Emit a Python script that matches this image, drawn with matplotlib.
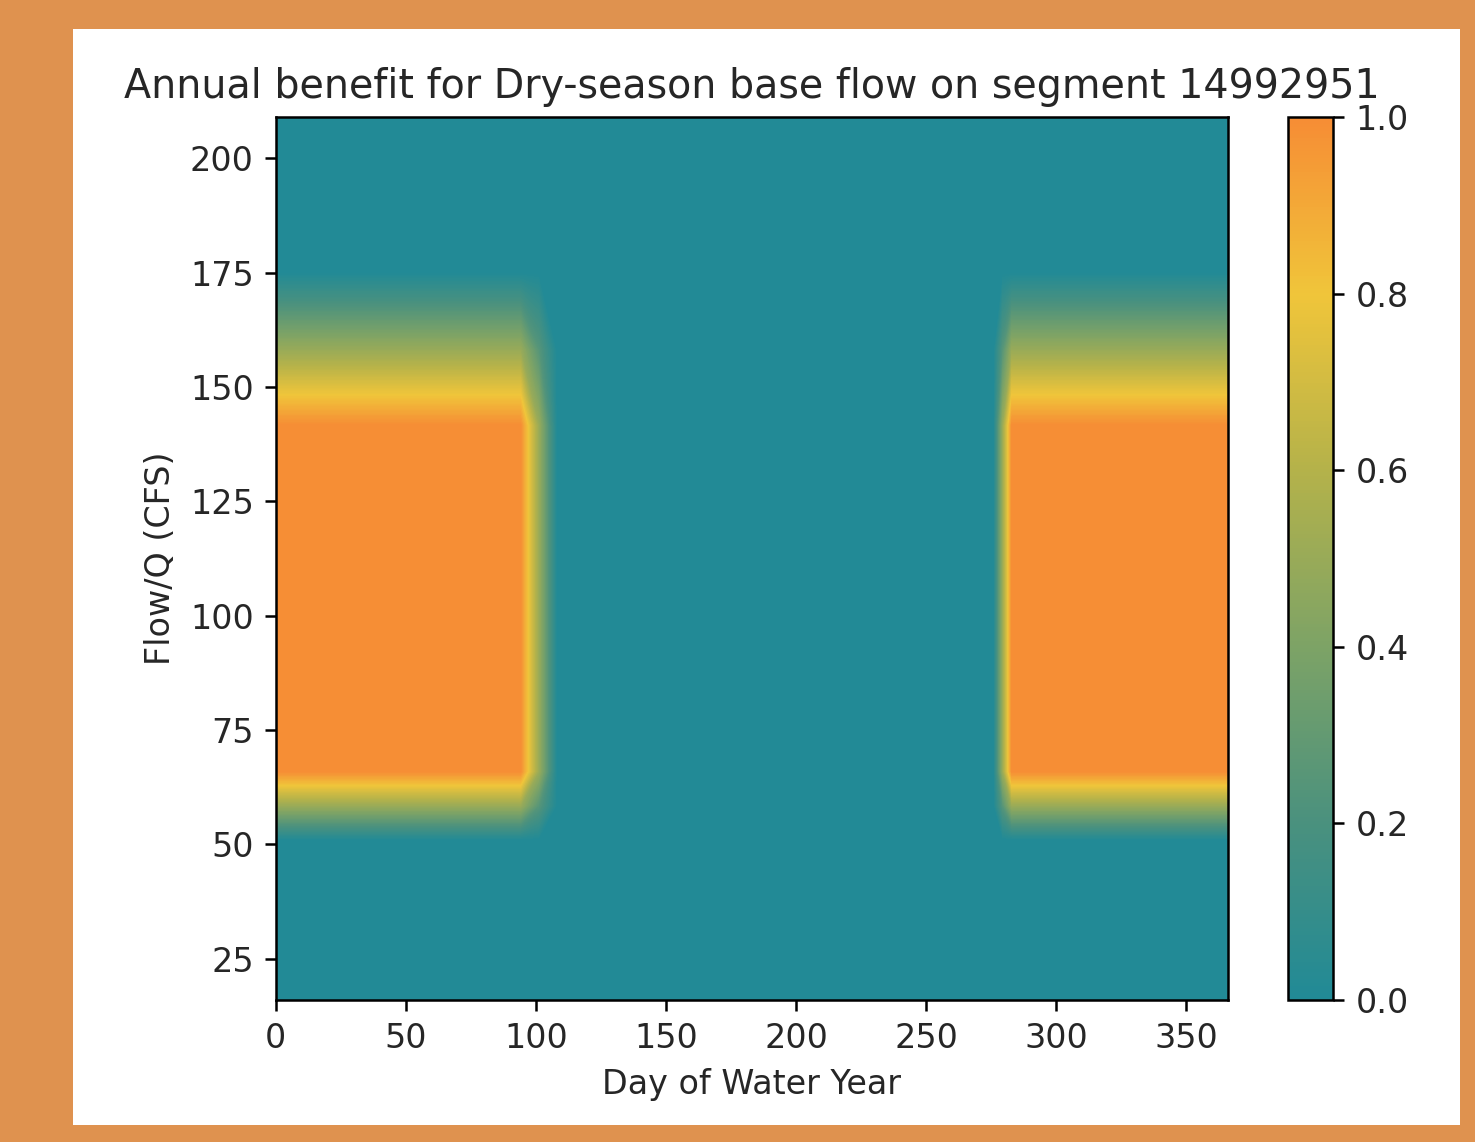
import numpy as np
import matplotlib
matplotlib.use("Agg")
import matplotlib.pyplot as plt
from matplotlib.colors import LinearSegmentedColormap
from matplotlib.patches import Rectangle

# node positions (day of water year, flow in CFS)
DAYS = [0, 94, 101, 108, 276, 279.5, 283, 366]
FLOWS = [16, 51, 58.5, 66, 141.5, 158, 175, 209]
# benefit at each node, one row per flow
BENEFIT = [
    [0.0, 0.0, 0.0, 0.0, 0.0, 0.0, 0.0, 0.0],
    [0.0, 0.0, 0.0, 0.0, 0.0, 0.0, 0.0, 0.0],
    [0.5, 0.5, 0.25, 0.0, 0.0, 0.25, 0.5, 0.5],
    [1.0, 1.0, 0.5, 0.0, 0.0, 0.5, 1.0, 1.0],
    [1.0, 1.0, 0.5, 0.0, 0.0, 0.5, 1.0, 1.0],
    [0.5, 0.5, 0.25, 0.0, 0.0, 0.25, 0.5, 0.5],
    [0.0, 0.0, 0.0, 0.0, 0.0, 0.0, 0.0, 0.0],
    [0.0, 0.0, 0.0, 0.0, 0.0, 0.0, 0.0, 0.0],
]

X_TICKS = [0, 50, 100, 150, 200, 250, 300, 350]
Y_TICKS = [25, 50, 75, 100, 125, 150, 175, 200]
CB_TICKS = [0.0, 0.2, 0.4, 0.6, 0.8, 1.0]

SEGMENT = 14992951

cmap = LinearSegmentedColormap.from_list("benefit", [
    (0.0, "#218A96"),
    (0.2, "#4A917E"),
    (0.4, "#7DA366"),
    (0.6, "#B4B24A"),
    (0.8, "#F0C53A"),
    (1.0, "#F68D35"),
])

S = 2.26  # scale relative to matplotlib defaults
plt.rcParams.update({
    "font.family": ["DejaVu Sans"],
    "font.size": 24,
    "text.color": "#262626",
    "axes.labelcolor": "#262626",
    "xtick.labelcolor": "#262626",
    "ytick.labelcolor": "#262626",
    "axes.linewidth": 0.8 * S,
    "xtick.major.size": 3.5 * S,
    "ytick.major.size": 3.5 * S,
    "xtick.major.width": 0.8 * S,
    "ytick.major.width": 0.8 * S,
    "xtick.major.pad": 3.5 * S,
    "ytick.major.pad": 3.5 * S,
    "axes.titlepad": 6 * S,
    "axes.labelpad": 4 * S,
    "axes.titlesize": 28.5,
})

fig = plt.figure(figsize=(14.75, 11.42), dpi=100, facecolor="#DF924F")
fig.add_artist(Rectangle((0.0495, 0.015), 0.9405, 0.960, transform=fig.transFigure,
                         facecolor="white", edgecolor="none", zorder=-1))

ax = fig.add_axes([0.187, 0.1243, 0.6455, 0.7733])
cax = fig.add_axes([0.873, 0.1243, 0.031, 0.7733])

levels = np.linspace(0, 1, 121)
cs = ax.contourf(DAYS, FLOWS, BENEFIT, levels=levels, cmap=cmap,
                 vmin=0, vmax=1, antialiased=False)
ax.set_xlim(DAYS[0], DAYS[-1])
ax.set_ylim(FLOWS[0], FLOWS[-1])
ax.set_xticks(X_TICKS)
ax.set_yticks(Y_TICKS)

ax.set_title(f"Annual benefit for Dry-season base flow on segment {SEGMENT}")
ax.set_xlabel("Day of Water Year")
ax.set_ylabel("Flow/Q (CFS)")

sm = plt.cm.ScalarMappable(cmap=cmap, norm=plt.Normalize(0, 1))
cb = fig.colorbar(sm, cax=cax)
cb.set_ticks(CB_TICKS)
cb.outline.set_linewidth(0.8 * S)

fig.savefig("out.png", dpi=100, facecolor=fig.get_facecolor())
